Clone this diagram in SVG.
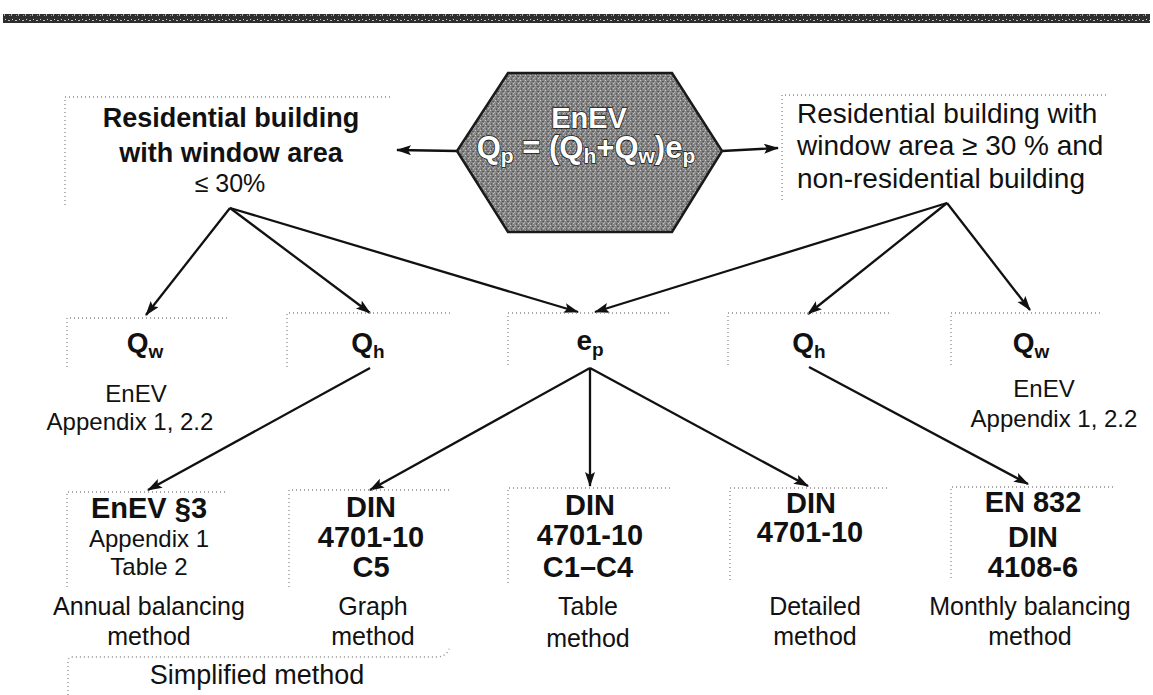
<svg xmlns="http://www.w3.org/2000/svg" width="1153" height="695" viewBox="0 0 1153 695">
<style>
text{font-family:"Liberation Sans",Arial,sans-serif;fill:#111}
.b{font-weight:bold}
.t27{font-size:27px}
.t28{font-size:28px}
.t29{font-size:29px}
.t25{font-size:25px}
.t24{font-size:24px}
.c{text-anchor:middle}
.box{fill:none;stroke:#8a8a8a;stroke-width:1.3;stroke-dasharray:1 3}
.con{fill:none;stroke:#111;stroke-width:2.3}
.hx{fill:#fff;stroke:#1a1a1a;stroke-width:1.6;paint-order:stroke;font-weight:bold}
</style>
<defs>
<marker id="ah" markerUnits="userSpaceOnUse" markerWidth="16" markerHeight="12" refX="14" refY="5" orient="auto">
<path d="M0,0 L15,5 L0,10 L3,5 Z" fill="#111"/>
</marker>
<pattern id="tex" width="5" height="5" patternUnits="userSpaceOnUse">
<rect width="5" height="5" fill="#858585"/>
<rect x="0" y="0" width="1" height="1" fill="#c8c8c8"/>
<rect x="2" y="1" width="2" height="1" fill="#5a5a5a"/>
<rect x="3" y="3" width="1" height="1" fill="#c0c0c0"/>
<rect x="1" y="3" width="1" height="2" fill="#606060"/>
<rect x="4" y="2" width="1" height="1" fill="#b5b5b5"/>
</pattern>
<pattern id="band" width="7" height="9" patternUnits="userSpaceOnUse">
<rect width="7" height="9" fill="#2e2e2e"/>
<rect x="1" y="2" width="2" height="1" fill="#bdbdbd"/>
<rect x="4" y="5" width="1" height="2" fill="#a8a8a8"/>
<rect x="5" y="1" width="1" height="1" fill="#d0d0d0"/>
<rect x="2" y="6" width="1" height="1" fill="#9a9a9a"/>
</pattern>
</defs>

<rect id="topband" x="3" y="14" width="1147" height="9" fill="url(#band)"/>

<g id="connectors">
<line class="con" x1="457" y1="151" x2="397" y2="150" marker-end="url(#ah)"/>
<line class="con" x1="722" y1="151" x2="778" y2="148" marker-end="url(#ah)"/>
<line class="con" x1="230" y1="208" x2="146" y2="315" marker-end="url(#ah)"/>
<line class="con" x1="230" y1="208" x2="370" y2="313" marker-end="url(#ah)"/>
<line class="con" x1="230" y1="208" x2="578" y2="312" marker-end="url(#ah)"/>
<line class="con" x1="947" y1="203" x2="595" y2="312" marker-end="url(#ah)"/>
<line class="con" x1="947" y1="203" x2="808" y2="314" marker-end="url(#ah)"/>
<line class="con" x1="947" y1="203" x2="1030" y2="310" marker-end="url(#ah)"/>
<line class="con" x1="370" y1="368" x2="148" y2="490" marker-end="url(#ah)"/>
<line class="con" x1="590" y1="368" x2="370" y2="490" marker-end="url(#ah)"/>
<line class="con" x1="590" y1="368" x2="590" y2="486" marker-end="url(#ah)"/>
<line class="con" x1="590" y1="368" x2="808" y2="486" marker-end="url(#ah)"/>
<line class="con" x1="809" y1="367" x2="1028" y2="484" marker-end="url(#ah)"/>
</g>

<g id="enev">
<polygon points="508,73 672,73 722,151 672,232 508,232 457,151" fill="url(#tex)" stroke="#1a1a1a" stroke-width="2.5"/>
<text class="hx c" x="589" y="128" font-size="29">EnEV</text>
<text class="hx c" x="586" y="158" font-size="31">Q<tspan font-size="21" dy="5">p</tspan><tspan dy="-5"> = (Q</tspan><tspan font-size="21" dy="5">h</tspan><tspan dy="-5">+Q</tspan><tspan font-size="21" dy="5">w</tspan><tspan dy="-5">)e</tspan><tspan font-size="21" dy="5">p</tspan></text>
</g>

<g id="res-small">
<path class="box" d="M65,205 L65,97 L393,97"/>
<text class="b t27 c" x="231" y="127">Residential building</text>
<text class="b t27 c" x="231" y="162">with window area</text>
<text class="t25 c" x="230" y="192">≤ 30%</text>
</g>

<g id="res-large">
<path class="box" d="M782,200 L782,95 L1108,95"/>
<text class="t28" x="797" y="123">Residential building with</text>
<text class="t28" x="797" y="155">window area ≥ 30 % and</text>
<text class="t28" x="797" y="188">non-residential building</text>
</g>

<g id="qw-left">
<path class="box" d="M67,367 L67,318 L228,318"/>
<text class="b c" x="145" y="352" font-size="28">Q<tspan font-size="19" dy="6">w</tspan></text>
<text class="t24 c" x="136" y="402">EnEV</text>
<text class="t24 c" x="130" y="430">Appendix 1, 2.2</text>
</g>

<g id="qh-left">
<path class="box" d="M287,367 L287,313 L450,313"/>
<text class="b c" x="368" y="352" font-size="28">Q<tspan font-size="19" dy="6">h</tspan></text>
</g>

<g id="ep">
<path class="box" d="M508,365 L508,313 L670,313"/>
<text class="b c" x="590" y="350" font-size="28">e<tspan font-size="19" dy="6">p</tspan></text>
</g>

<g id="qh-right">
<path class="box" d="M728,365 L728,313 L892,313"/>
<text class="b c" x="809" y="352" font-size="28">Q<tspan font-size="19" dy="6">h</tspan></text>
</g>

<g id="qw-right">
<path class="box" d="M951,365 L951,313 L1103,313"/>
<text class="b c" x="1031" y="352" font-size="28">Q<tspan font-size="19" dy="6">w</tspan></text>
<text class="t24 c" x="1044" y="397">EnEV</text>
<text class="t24 c" x="1054" y="427">Appendix 1, 2.2</text>
</g>

<g id="enev3">
<path class="box" d="M67,587 L67,492 L228,492"/>
<text class="b t29 c" x="149" y="518">EnEV §3</text>
<text class="t24 c" x="149" y="547">Appendix 1</text>
<text class="t24 c" x="149" y="575">Table 2</text>
<text class="t25 c" x="149" y="615">Annual balancing</text>
<text class="t25 c" x="149" y="645">method</text>
</g>

<g id="din-c5">
<path class="box" d="M289,587 L289,490 L450,490"/>
<text class="b t29 c" x="371" y="517">DIN</text>
<text class="b t29 c" x="371" y="547">4701-10</text>
<text class="b t29 c" x="371" y="577">C5</text>
<text class="t25 c" x="373" y="615">Graph</text>
<text class="t25 c" x="373" y="645">method</text>
</g>

<g id="din-c1c4">
<path class="box" d="M508,583 L508,488 L670,488"/>
<text class="b t29 c" x="590" y="515">DIN</text>
<text class="b t29 c" x="590" y="545">4701-10</text>
<text class="b t29 c" x="588" y="577">C1–C4</text>
<text class="t25 c" x="588" y="615">Table</text>
<text class="t25 c" x="588" y="647">method</text>
</g>

<g id="din-detailed">
<path class="box" d="M730,580 L730,488 L887,488"/>
<text class="b t29 c" x="811" y="513">DIN</text>
<text class="b t29 c" x="810" y="542">4701-10</text>
<text class="t25 c" x="815" y="615">Detailed</text>
<text class="t25 c" x="815" y="645">method</text>
</g>

<g id="en832">
<path class="box" d="M951,578 L951,487 L1114,487"/>
<text class="t29 c" x="1033" y="512" style="font-weight:600">EN 832</text>
<text class="b t29 c" x="1033" y="547">DIN</text>
<text class="t29 c" x="1033" y="577" style="font-weight:600">4108-6</text>
<text class="t25 c" x="1030" y="615">Monthly balancing</text>
<text class="t25 c" x="1030" y="645">method</text>
</g>

<g id="simplified">
<path class="box" d="M68,695 L68,661 Q68,657 73,657 L438,657 Q448,656 450,646"/>
<text class="t27 c" x="257" y="684">Simplified method</text>
</g>
</svg>
